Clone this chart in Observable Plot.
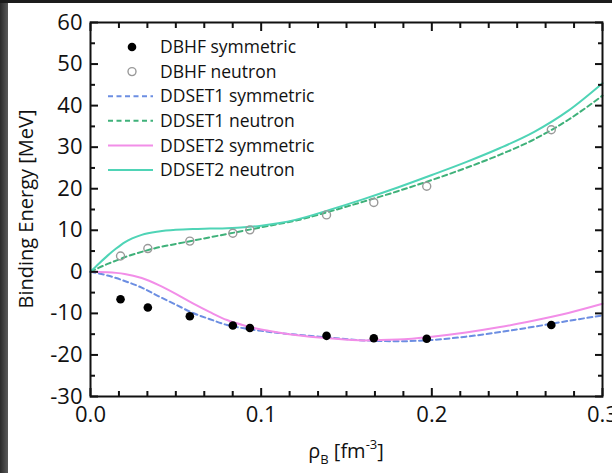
<!DOCTYPE html>
<html><head><meta charset="utf-8">
<script src="https://cdn.jsdelivr.net/npm/d3@7"></script>
<script src="https://cdn.jsdelivr.net/npm/@observablehq/plot@0.6"></script>
<style>
body{margin:0;background:#fff;width:612px;height:473px;overflow:hidden;position:relative;font-family:"Open Sans",sans-serif}
#chart{position:absolute;left:0;top:0}
.edgeL{position:absolute;left:0;top:0;width:8px;height:473px;background:linear-gradient(to right,#2a2a2a,#474747 60%,#5a5a5a)}
.edgeT{position:absolute;left:0;top:0;width:612px;height:3px;background:#1c1c1c}
</style></head><body>
<div id="chart"></div><div class="edgeL"></div><div class="edgeT"></div>
<script>
// ---- data ----
const dbhfRho = [0.0176, 0.0336, 0.0582, 0.0834, 0.0934, 0.1383, 0.166, 0.197, 0.270];
const dbhfSym = [-6.6, -8.6, -10.7, -12.9, -13.5, -15.4, -16.0, -16.1, -12.8];
const dbhfNeu = [3.8, 5.6, 7.4, 9.3, 10.1, 13.7, 16.7, 20.6, 34.2];

const rhoGrid = [0, 0.005, 0.01, 0.015, 0.02, 0.03, 0.04, 0.05, 0.06, 0.07, 0.08, 0.09, 0.10, 0.11, 0.12, 0.14, 0.16, 0.18, 0.20, 0.22, 0.24, 0.26, 0.28, 0.30];
const ddset1Sym = [0, -0.4, -0.9, -1.5, -2.2, -3.8, -5.9, -7.9, -9.9, -11.4, -12.8, -13.6, -14.2, -14.7, -15.1, -15.8, -16.5, -16.7, -16.4, -15.6, -14.5, -13.2, -11.8, -10.5];
const ddset1Neu = [0, 1.0, 1.9, 2.7, 3.5, 4.8, 5.9, 6.7, 7.5, 8.3, 9.1, 9.9, 10.7, 11.5, 12.3, 14.5, 16.9, 19.4, 22.1, 25.0, 28.2, 31.9, 36.6, 42.4];
const ddset2Sym = [0, -0.02, -0.1, -0.25, -0.5, -1.5, -3.2, -5.3, -7.6, -9.7, -11.6, -12.9, -13.9, -14.6, -15.2, -16.0, -16.5, -16.3, -15.6, -14.6, -13.3, -11.7, -9.9, -7.7];
const ddset2Neu = [0, 2.0, 3.9, 5.6, 7.1, 8.9, 9.7, 10.1, 10.3, 10.4, 10.5, 10.7, 11.1, 11.7, 12.5, 14.9, 17.5, 20.3, 23.3, 26.4, 29.8, 33.7, 38.8, 45.4];

const xMajor = [0, 0.1, 0.2, 0.3];
const xTickLabels = ["0.0", "0.1", "0.2", "0.3"];
const xMinor = [1,2,3,4,5,7,8,9,10,11,13,14,15,16,17].map(k => k * 0.3 / 18);
const yMajor = [-30, -20, -10, 0, 10, 20, 30, 40, 50, 60];
const yMinor = [-25, -15, -5, 5, 15, 25, 35, 45, 55];

const seriesNames = ["DBHF symmetric", "DBHF neutron", "DDSET1 symmetric", "DDSET1 neutron", "DDSET2 symmetric", "DDSET2 neutron"];

// ---- build ----
const pts = (ys) => dbhfRho.map((r, i) => ({rho: r, E: ys[i]}));
const crv = (ys) => rhoGrid.map((r, i) => ({rho: r, E: ys[i]}));

const lineSeries = [
  {name: seriesNames[2], data: crv(ddset1Sym), color: "#6c8ee2", dash: "5,3.5"},
  {name: seriesNames[3], data: crv(ddset1Neu), color: "#3fb17a", dash: "5,3.5"},
  {name: seriesNames[4], data: crv(ddset2Sym), color: "#f28ee8", dash: null},
  {name: seriesNames[5], data: crv(ddset2Neu), color: "#4fd4b6", dash: null}
];

const tickStyle = {stroke: "#111", strokeWidth: 2, text: null, label: null};

const plot = Plot.plot({
  width: 612, height: 473,
  marginLeft: 90, marginRight: 10, marginTop: 22, marginBottom: 77,
  style: {fontFamily: "'Open Sans', sans-serif", fontSize: "22px", color: "#111", background: "white"},
  x: {domain: [0, 0.3]},
  y: {domain: [-30, 60]},
  marks: [
    ...lineSeries.map(s => Plot.line(s.data, {x: "rho", y: "E", stroke: s.color, strokeWidth: 2, strokeDasharray: s.dash, curve: "monotone-x"})),
    Plot.dot(pts(dbhfSym), {x: "rho", y: "E", r: 4.3, fill: "black", stroke: "none"}),
    Plot.dot(pts(dbhfNeu), {x: "rho", y: "E", r: 4, fill: "none", stroke: "#999", strokeWidth: 1.4}),
    Plot.frame({stroke: "#111", strokeWidth: 2}),
    Plot.axisX(xMinor, {anchor: "bottom", tickSize: -5, ...tickStyle}),
    Plot.axisX(xMinor, {anchor: "top", tickSize: -5, ...tickStyle}),
    Plot.axisX(xMajor, {anchor: "bottom", tickSize: -8, ...tickStyle}),
    Plot.axisX(xMajor, {anchor: "top", tickSize: -8, ...tickStyle}),
    Plot.axisX(xMajor, {anchor: "bottom", tickSize: 0, tickPadding: 10, label: null, tickFormat: d => xTickLabels[xMajor.indexOf(d)]}),
    Plot.axisY(yMinor, {anchor: "left", tickSize: -5, ...tickStyle}),
    Plot.axisY(yMinor, {anchor: "right", tickSize: -5, ...tickStyle}),
    Plot.axisY(yMajor, {anchor: "left", tickSize: -8, ...tickStyle}),
    Plot.axisY(yMajor, {anchor: "right", tickSize: -8, ...tickStyle}),
    Plot.axisY(yMajor, {anchor: "left", tickSize: 0, tickPadding: 8, label: null, tickFormat: d => String(d)})
  ]
});
document.getElementById("chart").appendChild(plot);

// ---- axis titles & legend ----
const svg = d3.select(plot);
svg.append("text")
  .attr("transform", "translate(33,209) rotate(-90)")
  .attr("text-anchor", "middle").attr("font-size", 20).attr("fill", "#111")
  .text("Binding Energy [MeV]");

const xt = svg.append("text").attr("x", 346).attr("y", 458).attr("text-anchor", "middle").attr("font-size", 20).attr("fill", "#111");
xt.append("tspan").text("ρ");
xt.append("tspan").attr("font-size", 13).attr("dy", 6).text("B");
xt.append("tspan").attr("dy", -6).text(" [fm");
xt.append("tspan").attr("font-size", 13).attr("dy", -9).text("-3");
xt.append("tspan").attr("dy", 9).text("]");

const leg = svg.append("g").attr("font-size", 17.5).attr("fill", "#111").attr("text-anchor", "start");
const legendStyles = [
  {type: "dot"}, {type: "circle"},
  ...lineSeries.map(s => ({type: "line", color: s.color, dash: s.dash}))
];
seriesNames.forEach((name, i) => {
  const y = 47 + i * 24.6;
  const st = legendStyles[i];
  if (st.type === "dot") leg.append("circle").attr("cx", 132).attr("cy", y).attr("r", 4.3).attr("fill", "black");
  else if (st.type === "circle") leg.append("circle").attr("cx", 132).attr("cy", y).attr("r", 4).attr("fill", "none").attr("stroke", "#999").attr("stroke-width", 1.4);
  else leg.append("line").attr("x1", 108).attr("x2", 153).attr("y1", y).attr("y2", y).attr("stroke", st.color).attr("stroke-width", 2).attr("stroke-dasharray", st.dash);
  leg.append("text").attr("x", 160).attr("y", y).attr("dy", "0.35em").attr("text-anchor", "start").text(name);
});
</script>
</body></html>
